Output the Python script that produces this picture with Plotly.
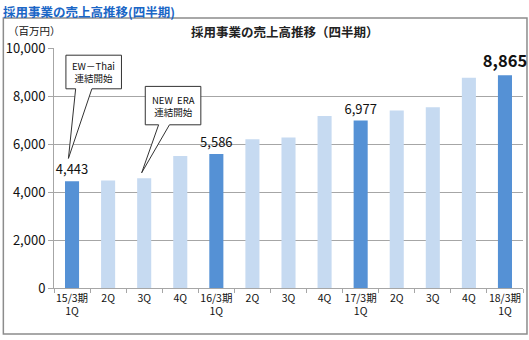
import plotly.graph_objects as go

categories = ["15/3期<br>1Q", "2Q", "3Q", "4Q", "16/3期<br>1Q", "2Q", "3Q", "4Q",
              "17/3期<br>1Q", "2Q", "3Q", "4Q", "18/3期<br>1Q"]
sales = [4443, 4480, 4570, 5500, 5586, 6200, 6270, 7170, 6977, 7400, 7530, 8760, 8865]
is_first_q = [True, False, False, False, True, False, False, False, True, False, False, False, True]
label_text = ["4,443", "", "", "", "5,586", "", "", "", "6,977", "", "", "", "<b>8,865</b>"]
label_size = [13, 12, 12, 12, 13, 12, 12, 12, 13, 12, 12, 12, 16.5]
y_ticks = [0, 2000, 4000, 6000, 8000, 10000]

DARK = "#5591D5"
LIGHT = "#C6DAF1"
FONT = "Noto Sans CJK JP"

x_idx = list(range(len(categories)))
fig = go.Figure()
fig.add_trace(go.Bar(
    x=x_idx, y=sales,
    marker=dict(color=[DARK if f else LIGHT for f in is_first_q], line=dict(width=0)),
    text=label_text, textposition="outside", constraintext="none",
    textfont=dict(size=label_size, color="#111111", family=FONT),
    cliponaxis=False, width=0.39, hoverinfo="skip",
))
# invisible trace on secondary axis for between-category tick marks
fig.add_trace(go.Scatter(x=[-0.5, 12.5], y=[0, 0], xaxis="x2", mode="markers",
                         marker=dict(opacity=0), hoverinfo="skip", showlegend=False))

fig.update_layout(
    width=529, height=340,
    margin=dict(l=52, r=6, t=48, b=52),
    paper_bgcolor="white", plot_bgcolor="white",
    showlegend=False,
    font=dict(family=FONT, color="#111111"),
    xaxis=dict(range=[-0.5, 12.5], tickvals=x_idx, ticktext=categories,
               ticks="", showgrid=False, zeroline=False,
               showline=True, linecolor="#A6A6A6", linewidth=1,
               tickfont=dict(size=10.5, color="#111111")),
    xaxis2=dict(range=[-0.5, 12.5], overlaying="x", anchor="y",
                tickvals=[i - 0.5 for i in range(len(categories) + 1)],
                ticks="outside", ticklen=4, tickcolor="#A6A6A6", showticklabels=False,
                showgrid=False, zeroline=False, side="bottom"),
    yaxis=dict(range=[0, 10000], tickvals=y_ticks, tickformat=",",
               showgrid=True, gridcolor="#A6A6A6", gridwidth=1,
               showline=True, linecolor="#A6A6A6", linewidth=1,
               ticks="outside", ticklen=5, tickcolor="#A6A6A6",
               zeroline=False, tickfont=dict(size=13, color="#111111")),
    bargap=0.6,
)

# outer frame
fig.add_shape(type="rect", xref="paper", yref="paper",
              x0=-0.108, x1=1.0085, y0=-0.192, y1=1.125,
              line=dict(color="#8C8C8C", width=1.5), fillcolor="rgba(0,0,0,0)", layer="below")

# callouts (box with pointer), anchored in data coordinates
def callout(x0, x1, ytop, ybot, bx0, bx1, tipx, tipy, text):
    path = (f"M {x0},{ytop} L {x1},{ytop} L {x1},{ybot} L {bx1},{ybot} "
            f"L {tipx},{tipy} L {bx0},{ybot} L {x0},{ybot} Z")
    fig.add_shape(type="path", xref="x", yref="y", path=path,
                  line=dict(color="#333333", width=1), fillcolor="white")
    fig.add_annotation(x=(x0 + x1) / 2, y=(ytop + ybot) / 2, xref="x", yref="y",
                       text=text, showarrow=False, align="center",
                       font=dict(size=9.5, color="#111111", family=FONT))

callout(-0.17, 1.37, 9700, 8300, 0.1, 0.55, -0.1, 5400, "EW－Thai<br>連結開始")
callout(2.03, 3.57, 8400, 6800, 2.4, 2.7, 1.93, 4800, "NEW  ERA<br>連結開始")

# titles
fig.add_annotation(x=-0.112, y=1.198, xref="paper", yref="paper", xanchor="left", yanchor="top",
                   text="<b>採用事業の売上高推移(四半期)</b>", showarrow=False,
                   font=dict(size=12.5, color="#1A66C6", family=FONT))
fig.add_annotation(x=0.4915, y=1.067, xref="paper", yref="paper", xanchor="center", yanchor="middle",
                   text="<b>採用事業の売上高推移（四半期）</b>", showarrow=False,
                   font=dict(size=12.5, color="#222222", family=FONT))
fig.add_annotation(x=-0.042, y=1.075, xref="paper", yref="paper", xanchor="center", yanchor="middle",
                   text="（百万円）", showarrow=False,
                   font=dict(size=10.5, color="#111111", family=FONT))

fig.write_html("out.html")
